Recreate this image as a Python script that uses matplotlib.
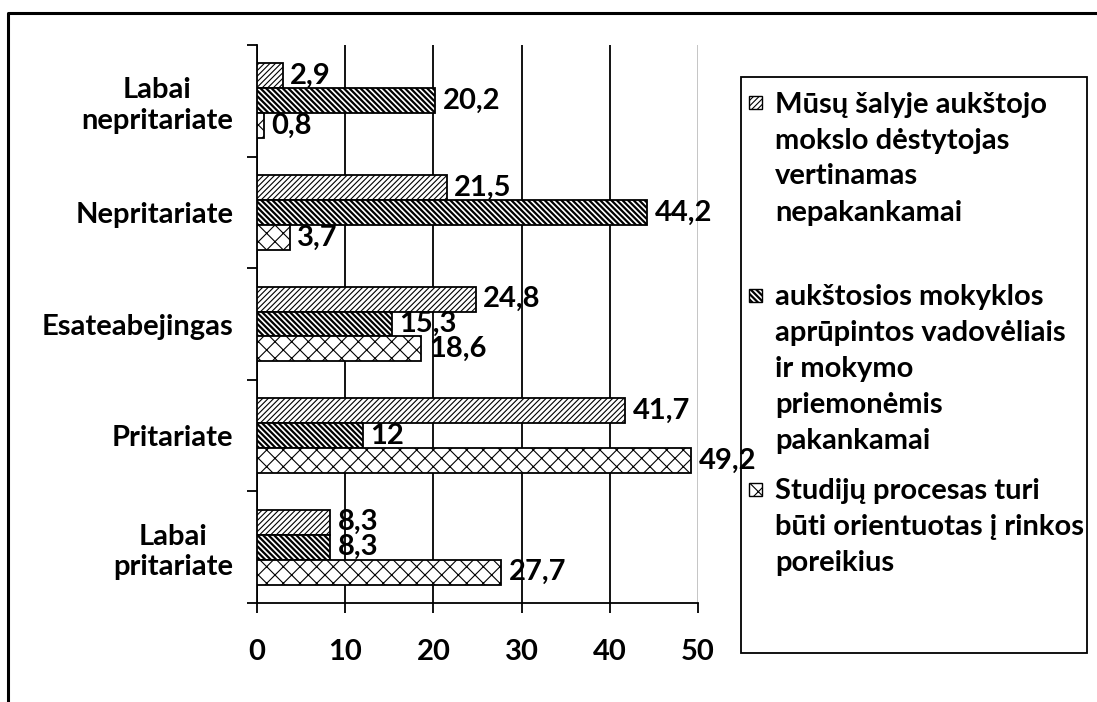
import matplotlib
matplotlib.use("Agg")
import matplotlib.pyplot as plt
from matplotlib.patches import Rectangle
from matplotlib.lines import Line2D
import numpy as np

plt.rcParams['font.family'] = ['Lato', 'DejaVu Sans']
plt.rcParams['font.weight'] = 'bold'
plt.rcParams['hatch.color'] = 'black'

categories = ["Labai\nnepritariate", "Nepritariate", "Esateabejingas",
              "Pritariate", "Labai\npritariate"]
series_names = [
    "Mūsų šalyje aukštojo\nmokslo dėstytojas\nvertinamas\nnepakankamai",
    "aukštosios mokyklos\naprūpintos vadovėliais\nir mokymo\npriemonėmis\npakankamai",
    "Studijų procesas turi\nbūti orientuotas į rinkos\nporeikius",
]
destytojas = [2.9, 21.5, 24.8, 41.7, 8.3]
vadoveliai = [20.2, 44.2, 15.3, 12, 8.3]
rinka = [0.8, 3.7, 18.6, 49.2, 27.7]
x_ticks = [0, 10, 20, 30, 40, 50]

series = [destytojas, vadoveliai, rinka]
hatches = ['//////', '\\\\\\\\\\\\', 'xx']
hatch_lw = [0.8, 1.6, 0.8]

W, H = 1097, 702
FS = 21
fig = plt.figure(figsize=(W / 100, H / 100), dpi=100)
ax = fig.add_axes([257 / W, 1 - 603 / H, (698 - 257) / W, (603 - 45) / H])

# outer frame (left and top edges visible)
fig.lines.append(Line2D([8 / W, 8 / W, 1.0], [0, 1 - 13 / H, 1 - 13 / H],
                        transform=fig.transFigure, color='black', lw=2.2))

y = np.arange(len(categories))
h = 0.224
for i, (vals, hat) in enumerate(zip(series, hatches)):
    plt.rcParams['hatch.linewidth'] = hatch_lw[i]
    bars = ax.barh(y + (i - 1) * h, vals, height=h, color='white',
                   edgecolor='black', linewidth=1.3, hatch=hat, zorder=3)
    for b in bars:
        if hasattr(b, 'set_hatch_linewidth'):
            b.set_hatch_linewidth(hatch_lw[i])
    labels = [f"{v:g}".replace('.', ',') for v in vals]
    ax.bar_label(bars, labels=labels, padding=5.5, fontsize=FS,
                 fontweight='bold', zorder=4)

ax.set_xlim(0, 50)
ax.set_ylim(len(categories) - 0.5, -0.5)
ax.set_xticks(x_ticks)
ax.set_xticklabels([str(t) for t in x_ticks], fontsize=FS, fontweight='bold')
ax.tick_params(axis='x', length=7, width=1.3, direction='out', pad=19)

ax.set_yticks(y)
ax.set_yticklabels(categories, fontsize=FS, fontweight='bold',
                   multialignment='center')
ax.set_yticks(np.arange(-0.5, len(categories), 1), minor=True)
ax.tick_params(axis='y', which='major', length=0, pad=17)
ax.tick_params(axis='y', which='minor', length=7, width=1.3, direction='out')

ax.xaxis.grid(True, color='black', lw=1.3)
ax.set_axisbelow(True)
gl = ax.get_xgridlines()
gl[-1].set_color('#c0c0c0')
for s in ['top', 'right']:
    ax.spines[s].set_visible(False)
for s in ['left', 'bottom']:
    ax.spines[s].set_linewidth(1.3)

# legend box (drawn under the axes so the 49,2 label stays visible)
lx0, ly0, lx1, ly1 = 741, 77, 1087, 653
fig.patches.append(Rectangle((lx0 / W, 1 - ly1 / H), (lx1 - lx0) / W,
                             (ly1 - ly0) / H, transform=fig.transFigure,
                             facecolor='white', edgecolor='black', lw=1.3,
                             zorder=-1))
starts = [102, 295, 489]
pitch = 36
for i, name in enumerate(series_names):
    y0 = starts[i]
    plt.rcParams['hatch.linewidth'] = hatch_lw[i]
    fig.patches.append(Rectangle((749 / W, 1 - (y0 + 7) / H), 13 / W, 13 / H,
                                 transform=fig.transFigure, facecolor='white',
                                 edgecolor='black', lw=1, hatch=hatches[i]))
    for k, line in enumerate(name.split('\n')):
        fig.text(775 / W, 1 - (y0 + k * pitch) / H, line, fontsize=FS,
                 fontweight='bold', ha='left', va='center_baseline')

fig.savefig("out.png", dpi=100)
